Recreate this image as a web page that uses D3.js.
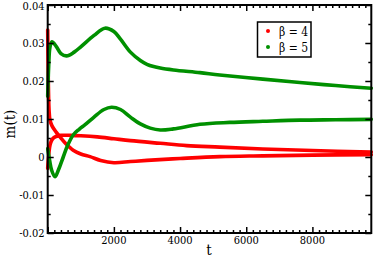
<!DOCTYPE html>
<html>
<head>
<meta charset="utf-8">
<script src="https://cdn.jsdelivr.net/npm/d3@7"></script>
<style>
  body { margin: 0; background: #fff; }
</style>
</head>
<body>
<div id="chart"></div>
<script>
// SVG area dimensions
var svgWidth = 374;
var svgHeight = 258;

// plot frame
var frame = { left: 47.7, right: 371.3, top: 5, bottom: 233 };

// beta = 4, two branches
var tRedA = [0, 15, 40, 70, 130, 250, 370, 550, 770, 1000, 1280, 1600, 2000, 2500, 3000, 4000, 5200, 6500, 8000, 9780];
var mRedA = [0.0334, 0.022, 0.0125, 0.0097, 0.0082, 0.0066, 0.0053, 0.0035, 0.0018, 0.0008, 0.0001, -0.0009, -0.0015, -0.0012, -0.0009, -0.0004, 0.0001, 0.0003, 0.0005, 0.0006];
var tRedB = [0, 30, 80, 150, 250, 400, 700, 1000, 1500, 2000, 2500, 3400, 4200, 5200, 6500, 8000, 9780];
var mRedB = [-0.003, 0.0005, 0.0035, 0.0048, 0.0054, 0.0057, 0.0057, 0.0056, 0.0053, 0.0048, 0.0043, 0.0036, 0.0030, 0.0026, 0.0021, 0.0017, 0.0013];

// beta = 5, two branches
var tGreenA = [0, 30, 70, 130, 250, 400, 570, 800, 1000, 1400, 1730, 2000, 2200, 2500, 2800, 3000, 3200, 3400, 3800, 4600, 5200, 6500, 7620, 8700, 9780];
var mGreenA = [0.016, 0.024, 0.029, 0.0303, 0.0292, 0.0272, 0.0266, 0.0276, 0.029, 0.032, 0.0339, 0.033, 0.031, 0.0276, 0.0254, 0.0244, 0.0238, 0.0234, 0.0229, 0.0222, 0.0216, 0.0205, 0.0196, 0.0188, 0.0181];
var tGreenB = [0, 60, 120, 220, 320, 470, 600, 770, 950, 1130, 1400, 1700, 1930, 2200, 2500, 2800, 3100, 3400, 3800, 4600, 5500, 6500, 7620, 8700, 9780];
var mGreenB = [0.0022, -0.001, -0.0035, -0.0052, -0.0035, 0.0, 0.003, 0.0058, 0.0073, 0.0085, 0.0105, 0.0125, 0.0131, 0.0125, 0.0105, 0.0087, 0.0076, 0.0071, 0.0074, 0.0086, 0.0091, 0.0094, 0.0097, 0.0098, 0.0099];

var xTicks = [2000, 4000, 6000, 8000];
var yTicks = [-0.02, -0.01, 0, 0.01, 0.02, 0.03, 0.04];
var yTickLabels = ["-0.02", "-0.01", "0", "0.01", "0.02", "0.03", "0.04"];
var legendLabels = ["\u03b2 = 4", "\u03b2 = 5"];
var colors = ["#ff0000", "#009000"];

var svg = d3.select("#chart")
    .append("svg")
    .attr("width", svgWidth)
    .attr("height", svgHeight);

var xScale = d3.scaleLinear().domain([0, 9780]).range([frame.left, frame.right]);
var yScale = d3.scaleLinear().domain([-0.02, 0.04]).range([frame.bottom, frame.top]);

// curves
var line = d3.line()
    .x(d => xScale(d[0]))
    .y(d => yScale(d[1]))
    .curve(d3.curveCatmullRom);

var series = [
  { t: tRedA, m: mRedA, c: 0 },
  { t: tRedB, m: mRedB, c: 0 },
  { t: tGreenA, m: mGreenA, c: 1 },
  { t: tGreenB, m: mGreenB, c: 1 }
];

series.forEach(function(s) {
  svg.append("path")
    .datum(s.t.map((t, i) => [t, s.m[i]]))
    .attr("fill", "none")
    .attr("stroke", colors[s.c])
    .attr("stroke-width", 3.6)
    .attr("stroke-linejoin", "round")
    .attr("stroke-linecap", "round")
    .attr("d", line);
});

// axes, ticks inward on all four sides
var xMinor = d3.range(200, 9780, 200).filter(v => v % 2000 !== 0);
var yMinor = d3.range(-0.015, 0.04, 0.01);

function tickSide(g, axis, major, minor) {
  g.call(axis.tickValues(major).tickSize(6).tickFormat(""));
  g.call(a => a.select(".domain").remove());
  g.append("g").call(axis.tickValues(minor).tickSize(3).tickFormat(""))
    .call(a => a.select(".domain").remove());
}

var xMajor = [0].concat(xTicks);
tickSide(svg.append("g").attr("transform", `translate(0,${frame.bottom})`), d3.axisTop(xScale), xMajor, xMinor);
tickSide(svg.append("g").attr("transform", `translate(0,${frame.top})`), d3.axisBottom(xScale), xMajor, xMinor);
tickSide(svg.append("g").attr("transform", `translate(${frame.left},0)`), d3.axisRight(yScale), yTicks, yMinor);
tickSide(svg.append("g").attr("transform", `translate(${frame.right},0)`), d3.axisLeft(yScale), yTicks, yMinor);

svg.selectAll(".tick line").attr("stroke", "#000").attr("stroke-width", 1.5);

svg.append("rect")
    .attr("x", frame.left)
    .attr("y", frame.top)
    .attr("width", frame.right - frame.left)
    .attr("height", frame.bottom - frame.top)
    .attr("fill", "none")
    .attr("stroke", "#000")
    .attr("stroke-width", 2);

var serif = "'DejaVu Serif', serif";

function serifText(sel, size) {
  return sel.style("font-family", serif)
    .style("font-stretch", "condensed")
    .attr("font-size", size);
}

// tick labels
serifText(svg.selectAll(".xlab")
    .data(xTicks)
    .enter()
    .append("text"), 11)
    .attr("x", d => xScale(d))
    .attr("y", 244)
    .attr("text-anchor", "middle")
    .text(d => d);

serifText(svg.selectAll(".ylab")
    .data(yTicks)
    .enter()
    .append("text"), 11)
    .attr("x", 44.5)
    .attr("y", d => Math.max(yScale(d) + 4, 10))
    .attr("text-anchor", "end")
    .text((d, i) => yTickLabels[i]);

// axis titles
serifText(svg.append("text"), 15)
    .attr("x", 209)
    .attr("y", 255)
    .attr("text-anchor", "middle")
    .text("t");

serifText(svg.append("text"), 15)
    .attr("transform", "translate(15,124) rotate(-90)")
    .attr("text-anchor", "middle")
    .text("m(t)");

// legend
var legend = svg.append("g");
legend.append("rect")
    .attr("x", 257.5)
    .attr("y", 22)
    .attr("width", 53.5)
    .attr("height", 35)
    .attr("fill", "#fff")
    .attr("stroke", "#000")
    .attr("stroke-width", 1.5);

legendLabels.forEach(function(lab, i) {
  var y = 31 + i * 16;
  legend.append("circle")
    .attr("cx", 268)
    .attr("cy", y)
    .attr("r", 2)
    .attr("fill", colors[i]);
  serifText(legend.append("text"), 12)
    .attr("x", 279)
    .attr("y", y + 4.5)
    .text(lab);
});
</script>
</body>
</html>
